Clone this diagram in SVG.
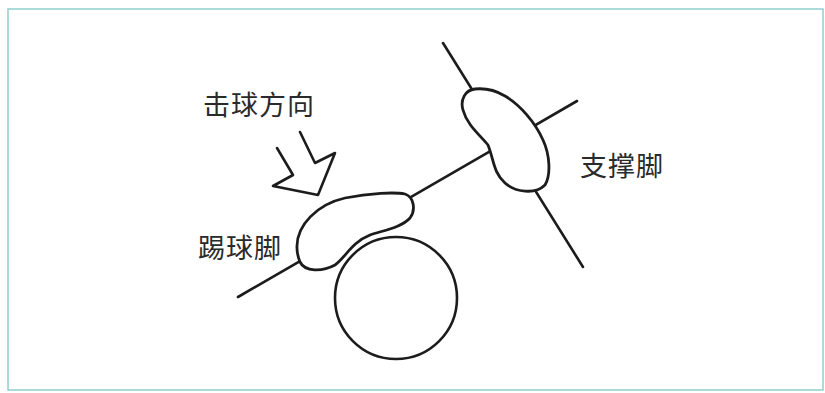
<svg xmlns="http://www.w3.org/2000/svg" width="825" height="393" viewBox="0 0 825 393">
  <style>
    .ink { fill: none; stroke: #1c1c1c; stroke-width: 2.6; stroke-linecap: round; stroke-linejoin: round; }
    .foot { fill: #ffffff; stroke: #1c1c1c; stroke-width: 2.8; stroke-linejoin: round; }
    .label { font-family: "Noto Sans CJK SC", "Noto Sans", sans-serif; font-size: 27px; fill: #2a2a2a; letter-spacing: 1px; }
  </style>
  <rect width="825" height="393" fill="#ffffff"/>
  <!-- frame -->
  <rect x="8" y="9" width="815" height="381" fill="none" stroke="#8fcfcf" stroke-width="1.5"/>

  <!-- leg lines and ball, drawn beneath the feet -->
  <g id="connectors">
    <line class="ink" x1="238" y1="297" x2="577" y2="101"/>
    <line class="ink" x1="443" y1="43" x2="583" y2="267"/>
  </g>

  <g id="ball">
    <circle class="ink" cx="396" cy="298" r="61"/>
  </g>

  <g id="kicking-foot">
    <path class="foot" d="M 297,248 C 296,225 318,204 345,198 C 370,193 395,192 405,194 C 414,197 416,210 410,218 C 402,227 385,230 370,235 C 352,242 345,258 335,265 C 322,272 305,272 300,262 C 298,257 297,252 297,248 Z"/>
    <text class="label" x="198" y="258">踢球脚</text>
  </g>

  <g id="support-foot">
    <path class="foot" d="M 475,89 C 465,90 460,100 463,110 C 467,125 480,135 488,145 C 494,160 493,172 505,183 C 515,192 535,195 545,185 C 551,175 550,155 543,140 C 535,122 520,105 505,96 C 495,90 485,88 475,89 Z"/>
    <text class="label" x="580" y="176">支撑脚</text>
  </g>

  <g id="direction">
    <polyline class="ink" points="300,132 315,163 335,153 318,195 273,186 293,175 277,148"/>
    <text class="label" x="203" y="115">击球方向</text>
  </g>
</svg>
